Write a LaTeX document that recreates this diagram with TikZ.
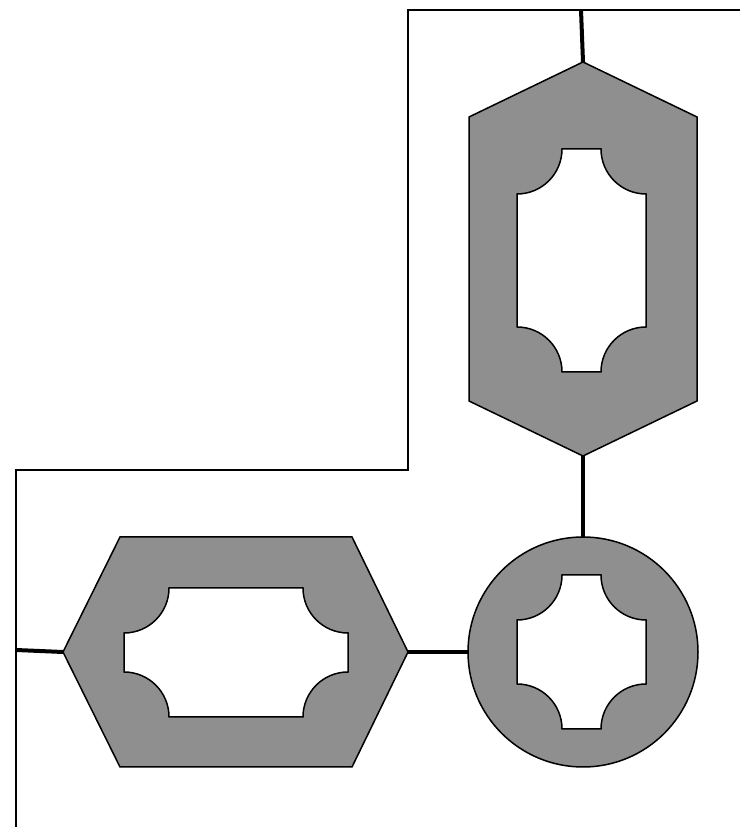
\documentclass[tikz,border=0pt]{standalone}
\begin{document}
\begin{tikzpicture}[x=1pt,y=1pt,
  wall/.style={line width=1.5pt,black},
  link/.style={line width=4pt,black},
  part/.style={fill={rgb,255:red,143;green,143;blue,143},draw=black,line width=1.5pt,even odd rule,line join=miter}]
\useasboundingbox (0,0) rectangle (740,827);
% walls
\draw[wall] (740,817) -- (408,817) -- (408,357) -- (16,357) -- (16,0);
% named anchor points
\coordinate (wallTop) at (581,817);
\coordinate (vhexTop) at (583,765);
\coordinate (vhexBot) at (583,371);
\coordinate (circTop) at (583,290);
\coordinate (circLeft) at (468,175);
\coordinate (hhexRight) at (408,175);
\coordinate (hhexLeft) at (63,175);
\coordinate (wallLeft) at (16,177);
% connectors
\draw[link] (wallTop) -- (vhexTop);
\draw[link] (vhexBot) -- (circTop);
\draw[link] (hhexRight) -- (circLeft);
\draw[link] (wallLeft) -- (hhexLeft);
% vertical hexagon
\draw[part] (583,765) -- (697,710) -- (697,426) -- (583,371) -- (469,426) -- (469,710) -- cycle
  (562,678) -- (601,678) arc[start angle=180,end angle=270,radius=45]
  -- (646,500) arc[start angle=90,end angle=180,radius=45]
  -- (562,455) arc[start angle=0,end angle=90,radius=45]
  -- (517,633) arc[start angle=270,end angle=360,radius=45] -- cycle;
% circle
\draw[part] (583,175) circle[radius=115]
  (562,252) -- (601,252) arc[start angle=180,end angle=270,radius=45]
  -- (646,143) arc[start angle=90,end angle=180,radius=45]
  -- (562,98) arc[start angle=0,end angle=90,radius=45]
  -- (517,207) arc[start angle=270,end angle=360,radius=45] -- cycle;
% horizontal hexagon
\draw[part] (120,290) -- (352,290) -- (408,175) -- (352,60) -- (120,60) -- (63,175) -- cycle
  (169,239) -- (303,239) arc[start angle=180,end angle=270,radius=45]
  -- (348,155) arc[start angle=90,end angle=180,radius=45]
  -- (169,110) arc[start angle=0,end angle=90,radius=45]
  -- (124,194) arc[start angle=270,end angle=360,radius=45] -- cycle;
\end{tikzpicture}
\end{document}
